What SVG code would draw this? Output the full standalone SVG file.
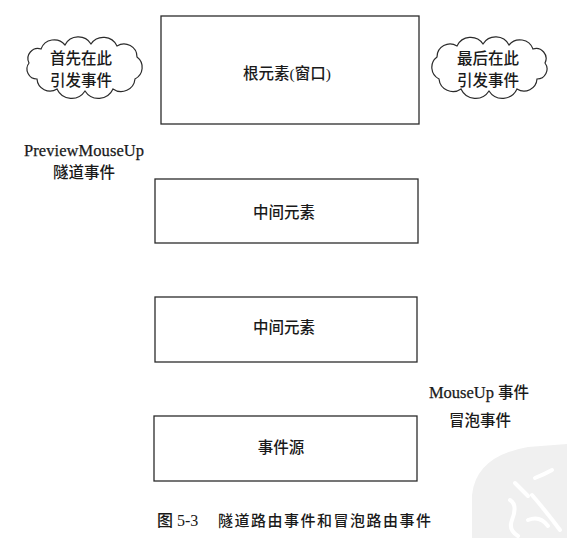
<svg xmlns="http://www.w3.org/2000/svg" width="567" height="538" viewBox="0 0 567 538">
<defs>
<style>
.box{fill:#fff;stroke:#2b2b2b;stroke-width:1.3}
.cloud{fill:#fff;stroke:#2b2b2b;stroke-width:1.2}
.cjk{font-family:"Liberation Serif","Noto Sans CJK SC",serif;font-size:15.5px;font-weight:500;fill:#1a1a1a;text-anchor:middle}
.lat{font-family:"Liberation Serif","Noto Sans CJK SC",serif;font-size:16.5px;fill:#1a1a1a;text-anchor:middle;stroke:#1a1a1a;stroke-width:0.25}
.cap{font-family:"Liberation Serif","Noto Sans CJK SC",serif;font-size:15px;font-weight:500;fill:#1a1a1a}
.wm{fill:none;stroke:#fff;stroke-width:4;stroke-linecap:round}
</style>
<path id="cloudShape" d="M -56 -4 A 10 10 0 0 1 -44 -18 A 14 14 0 0 1 -20 -22 A 15 15 0 0 1 6 -23 A 15 15 0 0 1 32 -21 A 13 13 0 0 1 52 -10 A 13 13 0 0 1 50 12 A 14 14 0 0 1 28 22 A 16 16 0 0 1 0 24 A 16 16 0 0 1 -28 22 A 13 13 0 0 1 -48 12 A 10 10 0 0 1 -56 -4 Z"/>
</defs>
<rect width="567" height="538" fill="#fff"/>
<g id="watermark">
<path d="M 472 538 L 472 495 Q 476 456 528 447 L 567 444 L 567 538 Z" fill="#f0f0f0"/>
<path class="wm" d="M 515 483 Q 522 490 528 496"/>
<path class="wm" d="M 510 500 Q 518 505 512 520 Q 508 530 518 536"/>
<path class="wm" d="M 535 478 Q 545 474 552 470"/>
<path class="wm" d="M 532 495 Q 545 510 560 530"/>
<path class="wm" d="M 528 520 Q 540 515 548 526"/>
</g>
<g id="cloud-left">
<use href="#cloudShape" class="cloud" transform="translate(85,67)"/>
<text class="cjk" x="81" y="64">首先在此</text>
<text class="cjk" x="81" y="86">引发事件</text>
</g>
<g id="cloud-right">
<use href="#cloudShape" class="cloud" transform="translate(489,67) scale(-1,1)"/>
<text class="cjk" x="488" y="64">最后在此</text>
<text class="cjk" x="488" y="86">引发事件</text>
</g>
<g id="root">
<rect class="box" x="161" y="16" width="258" height="108"/>
<text class="cjk" x="287" y="79">根元素(窗口)</text>
</g>
<g id="tunnel-label">
<text class="lat" x="84" y="156" textLength="120">PreviewMouseUp</text>
<text class="cjk" x="84" y="178">隧道事件</text>
</g>
<g id="middle1">
<rect class="box" x="155" y="179" width="263" height="64"/>
<text class="cjk" x="284" y="218">中间元素</text>
</g>
<g id="middle2">
<rect class="box" x="155" y="297" width="262" height="65"/>
<text class="cjk" x="284" y="333">中间元素</text>
</g>
<g id="bubble-label">
<text class="lat" x="479" y="398">MouseUp <tspan style="font-size:15.5px;font-weight:500;stroke:none">事件</tspan></text>
<text class="cjk" x="480" y="426">冒泡事件</text>
</g>
<g id="source">
<rect class="box" x="154" y="416" width="263" height="65"/>
<text class="cjk" x="281" y="453">事件源</text>
</g>
<g id="connectors"></g>
<g id="caption">
<text class="cap" x="157" y="526" style="font-size:16px">图 5-3</text>
<text class="cap" x="218" y="526" textLength="213">隧道路由事件和冒泡路由事件</text>
</g>
</svg>
